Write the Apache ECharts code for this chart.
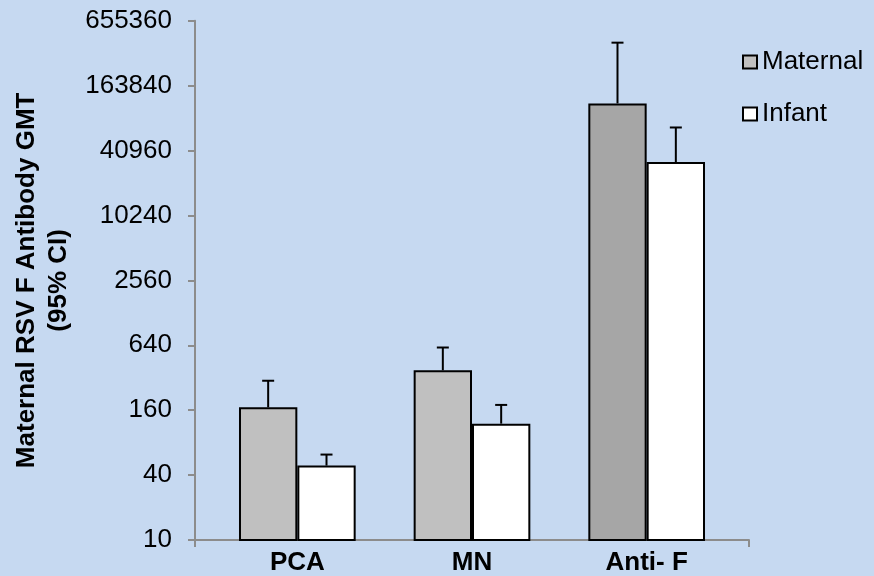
<!DOCTYPE html>
<html>
<head>
<meta charset="utf-8">
<script src="https://cdn.jsdelivr.net/npm/echarts@6/dist/echarts.min.js"></script>
<style>
  html, body { margin: 0; padding: 0; background: #c6d9f1; }
  #chart { width: 874px; height: 576px; }
</style>
</head>
<body>
<div id="chart"></div>
<script>
// Assay groups on the x axis
const categories = ['PCA', 'MN', 'Anti- F'];
// Geometric mean titres
const maternalGMT = [170, 375, 112000];
const infantGMT = [49, 120, 32000];
// Upper 95% confidence limits
const maternalUpper = [300, 610, 410000];
const infantUpper = [62, 179, 67000];
// Y axis tick values (powers of 4 from 10)
const yTicks = [10, 40, 160, 640, 2560, 10240, 40960, 163840, 655360];

const FONT = '"Liberation Sans", Arial, sans-serif';
const AXIS_GREY = '#8c8c8c';
const BAR_SHARE = 0.334;

const chart = echarts.init(document.getElementById('chart'), null, { renderer: 'canvas' });

// Upward error whisker with a cap, shifted to sit over its bar in the group
function errorRenderer(sign) {
  return function (params, api) {
    const idx = api.value(0);
    const top = api.coord([idx, api.value(2)]);
    const base = api.coord([idx, api.value(1)]);
    const band = api.size([1, 0])[0];
    const x = top[0] + sign * band * BAR_SHARE / 2;
    const cap = 6;
    const style = { stroke: '#000', lineWidth: 2 };
    return {
      type: 'group',
      children: [
        { type: 'line', shape: { x1: x, y1: base[1], x2: x, y2: top[1] }, style },
        { type: 'line', shape: { x1: x - cap, y1: top[1], x2: x + cap, y2: top[1] }, style }
      ]
    };
  };
}

const maternalData = maternalGMT.map((v, i) =>
  i === 2 ? { value: v, itemStyle: { color: '#a6a6a6' } } : v);

chart.setOption({
  backgroundColor: '#c6d9f1',
  animation: false,
  textStyle: { fontFamily: FONT },
  legend: {
    orient: 'vertical',
    left: 742,
    top: 49,
    padding: 0,
    itemWidth: 14,
    itemHeight: 13,
    itemGap: 26,
    icon: 'rect',
    textStyle: { fontSize: 26, color: '#000', fontFamily: FONT },
    data: ['Maternal', 'Infant']
  },
  grid: [
    { left: 210, right: 140, top: 20.7, bottom: 36, containLabel: false },
    { left: 195, right: 125, top: 20.7, bottom: 36, containLabel: false }
  ],
  xAxis: [
    {
      type: 'category',
      gridIndex: 0,
      data: categories,
      axisLine: { show: false },
      axisTick: { show: false },
      axisLabel: { fontSize: 26, fontWeight: 'bold', color: '#000', margin: 10, fontFamily: FONT }
    },
    {
      type: 'value',
      gridIndex: 1,
      min: 0,
      max: 1,
      interval: 1,
      axisLine: { show: true, lineStyle: { color: AXIS_GREY, width: 2 } },
      axisTick: { show: true, length: 7, lineStyle: { color: AXIS_GREY, width: 2 } },
      axisLabel: { show: false },
      splitLine: { show: false }
    }
  ],
  yAxis: [
    {
      type: 'log',
      logBase: 4,
      gridIndex: 0,
      min: 10,
      max: 655360,
      offset: 15,
      axisLine: { show: true, lineStyle: { color: AXIS_GREY, width: 2 } },
      axisTick: { show: true, length: 7, lineStyle: { color: AXIS_GREY, width: 2 }, customValues: yTicks },
      splitLine: { show: false },
      axisLabel: {
        fontSize: 26, color: '#000', margin: 23, fontFamily: FONT,
        customValues: yTicks,
        formatter: (v) => String(Math.round(v))
      },
      name: 'Maternal RSV F Antibody GMT\n(95% CI)',
      nameLocation: 'middle',
      nameRotate: 90,
      nameGap: 111,
      nameTextStyle: { fontSize: 26, fontWeight: 'bold', color: '#000', lineHeight: 32, fontFamily: FONT }
    },
    {
      type: 'value',
      gridIndex: 1,
      show: false,
      min: 0,
      max: 1
    }
  ],
  series: [
    {
      name: 'Maternal',
      type: 'bar',
      xAxisIndex: 0,
      yAxisIndex: 0,
      barWidth: (BAR_SHARE * 100) + '%',
      barGap: '0%',
      data: maternalData,
      itemStyle: { color: '#c0c0c0', borderColor: '#000', borderWidth: 2 }
    },
    {
      name: 'Infant',
      type: 'bar',
      xAxisIndex: 0,
      yAxisIndex: 0,
      barWidth: (BAR_SHARE * 100) + '%',
      barGap: '0%',
      data: infantGMT,
      itemStyle: { color: '#ffffff', borderColor: '#000', borderWidth: 2 }
    },
    {
      type: 'custom',
      xAxisIndex: 0,
      yAxisIndex: 0,
      renderItem: errorRenderer(-1),
      encode: { x: 0, y: [1, 2] },
      data: maternalGMT.map((v, i) => [i, v, maternalUpper[i]]),
      z: 1
    },
    {
      type: 'custom',
      xAxisIndex: 0,
      yAxisIndex: 0,
      renderItem: errorRenderer(1),
      encode: { x: 0, y: [1, 2] },
      data: infantGMT.map((v, i) => [i, v, infantUpper[i]]),
      z: 1
    }
  ]
});
</script>
</body>
</html>
